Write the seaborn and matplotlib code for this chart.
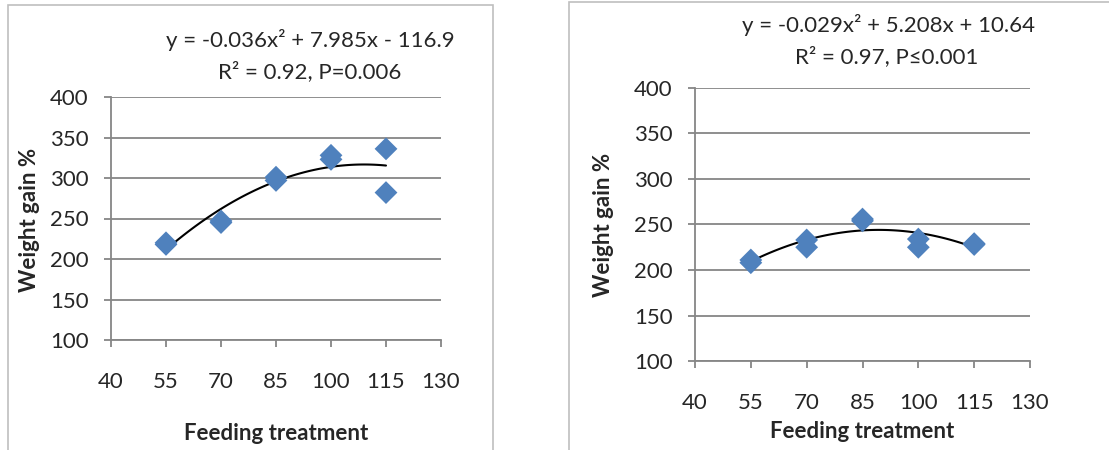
import numpy as np
import pandas as pd
import matplotlib.pyplot as plt
import seaborn as sns
from matplotlib.patches import Rectangle

# Feeding treatment levels (two replicates each) and weight gain %
feeding_left = [55, 55, 70, 70, 85, 85, 100, 100, 115, 115]
gain_left = [218, 220, 245, 247, 297, 301, 323, 328, 336, 282]

feeding_right = [55, 55, 70, 70, 85, 85, 100, 100, 115, 115]
gain_right = [208, 211, 233, 225, 256, 254, 234, 225, 229, 228]

eq_left = ["y = -0.036x\u00b2 + 7.985x - 116.9", "R\u00b2 = 0.92, P=0.006"]
eq_right = ["y = -0.029x\u00b2 + 5.208x + 10.64", "R\u00b2 = 0.97, P\u22640.001"]

x_ticks = [40, 55, 70, 85, 100, 115, 130]
y_ticks = [100, 150, 200, 250, 300, 350, 400]

sns.set_style("white")
plt.rcParams['font.family'] = ['Lato', 'DejaVu Sans']

W, H = 1109, 450
fig = plt.figure(figsize=(W / 100, H / 100), dpi=100)

grey = "#868686"
blue = "#4F81BD"
fs = 16


def px(x, y):
    return x / W, 1 - y / H


def draw_panel(rect, xs, ys, eq, eq_pos, ylab_pos, xlab_pos):
    ax = fig.add_axes(rect)
    df = pd.DataFrame({"x": xs, "y": ys})
    sns.scatterplot(data=df, x="x", y="y", marker="D", s=135, color=blue,
                    edgecolor="none", ax=ax, zorder=3)
    sns.regplot(data=df, x="x", y="y", order=2, ci=None, scatter=False,
                line_kws={"color": "black", "lw": 1.5}, ax=ax)
    ax.set_xlim(40, 130)
    ax.set_ylim(100, 400)
    ax.set_xticks(x_ticks)
    ax.set_yticks(y_ticks)
    ax.yaxis.grid(True, color=grey, lw=1.3)
    ax.xaxis.grid(False)
    for s in ["top", "right"]:
        ax.spines[s].set_visible(False)
    for s in ["left", "bottom"]:
        ax.spines[s].set_color(grey)
        ax.spines[s].set_linewidth(1.3)
    ax.tick_params(axis="y", length=5, width=1.3, color=grey, labelsize=fs, pad=11, left=True)
    ax.tick_params(axis="x", length=5, width=1.3, color=grey, labelsize=fs, pad=18, bottom=True)
    ax.set_xlabel("")
    ax.set_ylabel("")
    fig.text(*px(*eq_pos[0]), eq[0], fontsize=fs, ha="center", va="center")
    fig.text(*px(*eq_pos[1]), eq[1], fontsize=fs, ha="center", va="center")
    fig.text(*px(*ylab_pos), "Weight gain %", fontsize=fs, fontweight="bold",
             rotation=90, ha="center", va="center")
    fig.text(*px(*xlab_pos), "Feeding treatment", fontsize=fs, fontweight="bold",
             ha="center", va="center")
    return ax


draw_panel([111 / W, 110 / H, 330 / W, 243 / H], feeding_left, gain_left, eq_left,
           [(310, 40), (310, 72)], (30, 220), (276, 434))
draw_panel([695 / W, 89 / H, 335 / W, 273 / H], feeding_right, gain_right, eq_right,
           [(888, 25), (887, 57)], (603, 225), (862, 432))

# chart frames
fig.add_artist(Rectangle(px(8, 460), 485 / W, 455 / H, transform=fig.transFigure,
                         fill=False, edgecolor="#BFBFBF", lw=1.2))
fig.add_artist(Rectangle(px(569, 460), 560 / W, 458 / H, transform=fig.transFigure,
                         fill=False, edgecolor="#BFBFBF", lw=1.2))

fig.savefig("out.png", dpi=100)
